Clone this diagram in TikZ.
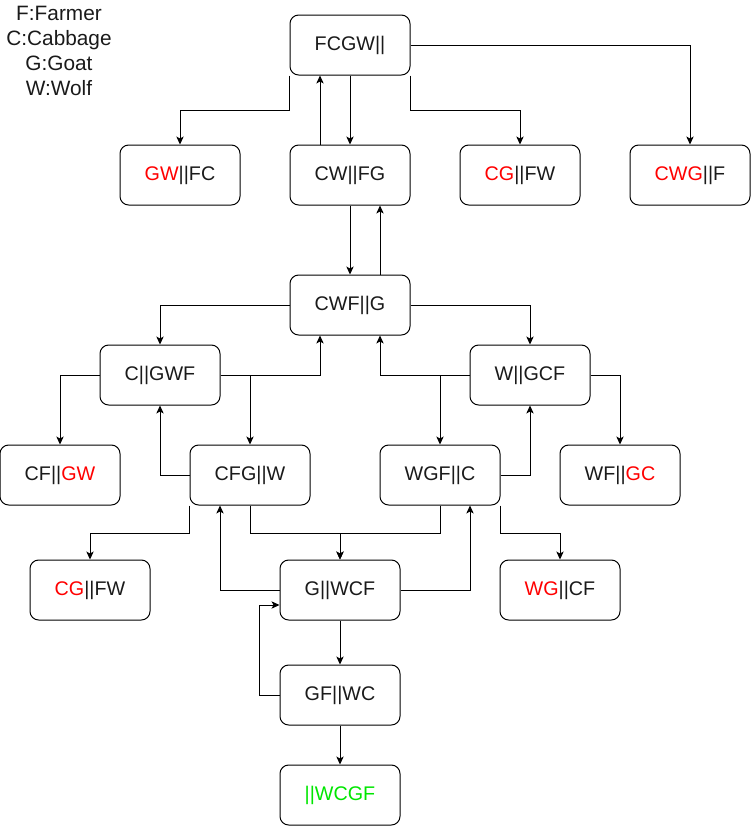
\documentclass[tikz,border=0pt]{standalone}
\usepackage{fontspec}
\setmainfont{Liberation Sans}
\usetikzlibrary{arrows.meta,calc}
\definecolor{txt}{HTML}{1A1A1A}
\definecolor{bad}{HTML}{FF0000}
\definecolor{good}{HTML}{00E600}
\begin{document}
\begin{tikzpicture}[x=0.75pt,y=-0.75pt,
  state/.style={draw=black,line width=0.75pt,rounded corners=6.5pt,minimum width=90pt,minimum height=45pt,inner sep=0pt,text=txt,font=\fontsize{14.8}{17}\selectfont},
  conn/.style={draw=black,line width=0.75pt,-{Stealth[length=6pt,width=5.5pt,inset=1.5pt]}},
  plain/.style={draw=black,line width=0.75pt}]
\useasboundingbox (0,0) rectangle (751,826);
\node[text=txt,align=center,font=\fontsize{15.6}{18.75}\selectfont] (legend) at (59,51) {F:Farmer\\C:Cabbage\\G:Goat\\W:Wolf};
\node[state] (fcgw) at (350,45) {FCGW||};
\node[state] (gwfc) at (180,175) {\textcolor{bad}{GW}||FC};
\node[state] (cwfg) at (350,175) {CW||FG};
\node[state] (cgfwa) at (520,175) {\textcolor{bad}{CG}||FW};
\node[state] (cwgf) at (690,175) {\textcolor{bad}{CWG}||F};
\node[state] (cwf) at (350,305) {CWF||G};
\node[state] (cgwf) at (160,375) {C||GWF};
\node[state] (wgcf) at (530,375) {W||GCF};
\node[state] (cfgw) at (60,475) {CF||\textcolor{bad}{GW}};
\node[state] (cfg) at (250,475) {CFG||W};
\node[state] (wgf) at (440,475) {WGF||C};
\node[state] (wfgc) at (620,475) {WF||\textcolor{bad}{GC}};
\node[state] (cgfwb) at (90,590) {\textcolor{bad}{CG}||FW};
\node[state] (gwcf) at (340,590) {G||WCF};
\node[state] (wgcfb) at (560,590) {\textcolor{bad}{WG}||CF};
\node[state] (gfwc) at (340,695) {GF||WC};
\node[state] (goal) at (340,795) {\textcolor{good}{||WCGF}};
% top level
\draw[conn] (fcgw.south west) -- ++(0,35) -| (gwfc.north);
\draw[conn] ($(cwfg.north)+(-30,0)$) -- ($(fcgw.south)+(-30,0)$);
\draw[conn] (fcgw.south) -- (cwfg.north);
\draw[conn] (fcgw.south east) -- ++(0,35) -| (cgfwa.north);
\draw[conn] (fcgw.east) -| (cwgf.north);
\draw[conn] (cwfg.south) -- (cwf.north);
\draw[conn] ($(cwf.north)+(30,0)$) -- ($(cwfg.south)+(30,0)$);
% CWF level
\draw[conn] (cwf.west) -| (cgwf.north);
\draw[conn] (cwf.east) -| (wgcf.north);
\draw[conn] (cgwf.east) -| ($(cwf.south)+(-30,0)$);
\draw[conn] (wgcf.west) -| ($(cwf.south)+(30,0)$);
% third level
\draw[conn] (cgwf.west) -| (cfgw.north);
\draw[conn] (cgwf.east) -| (cfg.north);
\draw[conn] (cfg.west) -| (cgwf.south);
\draw[conn] (wgcf.west) -| (wgf.north);
\draw[conn] (wgf.east) -| (wgcf.south);
\draw[conn] (wgcf.east) -| (wfgc.north);
% fourth level
\draw[conn] (cfg.south west) -- ++(0,28) -| (cgfwb.north);
\draw[conn] (cfg.south) -- ++(0,28) -| (gwcf.north);
\draw[conn] (wgf.south) -- ++(0,28) -| (gwcf.north);
\draw[conn] (gwcf.west) -| ($(cfg.south)+(-30,0)$);
\draw[conn] (gwcf.east) -| ($(wgf.south)+(30,0)$);
\draw[conn] (wgf.south east) -- ++(0,28) -| (wgcfb.north);
% bottom
\draw[conn] (gwcf.south) -- (gfwc.north);
\draw[conn] (gfwc.west) -- ++(-20,0) |- ($(gwcf.west)+(0,15)$);
\draw[conn] (gfwc.south) -- (goal.north);
\end{tikzpicture}
\end{document}
